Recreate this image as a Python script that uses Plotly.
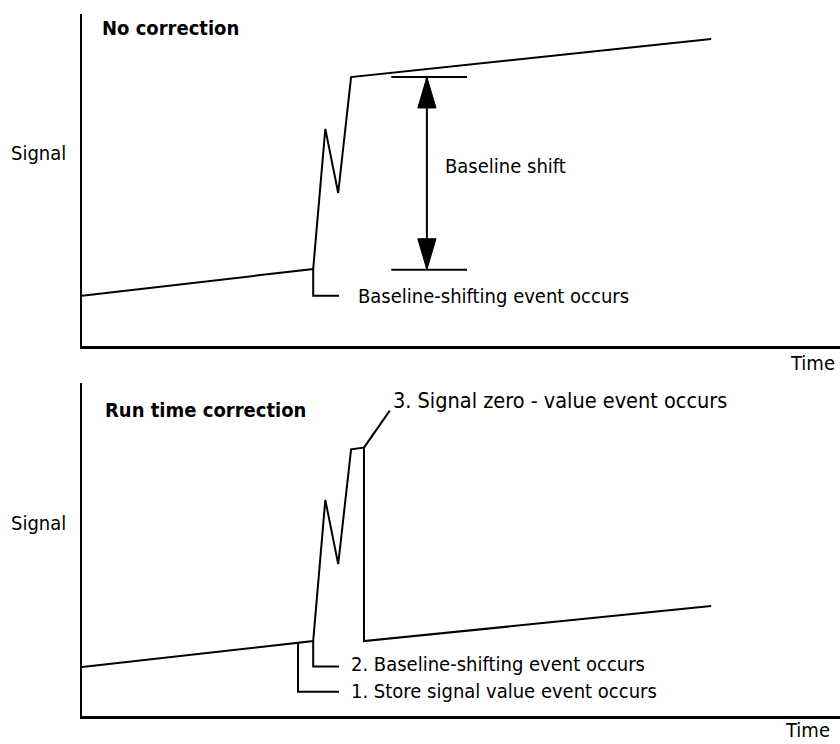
import plotly.graph_objects as go
import numpy as np

# ---------------- data ----------------
time_top = [0, 30.5, 32.1, 33.8, 35.5, 83.0]
signal_top = [15.1, 23.2, 65.4, 46.1, 81.0, 92.5]

time_bottom = [0, 30.5, 32.1, 33.8, 35.5, 37.2, 37.2, 83.0]
signal_bottom = [14.7, 22.5, 64.9, 45.6, 80.1, 80.6, 22.5, 33.0]

shift_low, shift_high = 23.0, 81.0
shift_time = 45.5

event_shift_time = 30.5
event_store_time = 28.5
event_zero_time = 37.2

titles = ["No correction", "Run time correction"]
y_label = "Signal"
x_label = "Time"

FONT = "Liberation Sans Narrow, DejaVu Sans Condensed, Roboto, sans-serif"
FS = 20

fig = go.Figure()

line = dict(color="black", width=2)

# main signal traces
fig.add_trace(go.Scatter(x=time_top, y=signal_top, mode="lines", line=line,
                         xaxis="x", yaxis="y", showlegend=False, hoverinfo="skip"))
fig.add_trace(go.Scatter(x=time_bottom, y=signal_bottom, mode="lines", line=line,
                         xaxis="x2", yaxis="y2", showlegend=False, hoverinfo="skip"))

# bracket helper
def bracket(t, s_start, depth_s, t_end, xa, ya):
    fig.add_trace(go.Scatter(x=[t, t, t_end], y=[s_start, depth_s, depth_s], mode="lines",
                             line=line, xaxis=xa, yaxis=ya, showlegend=False, hoverinfo="skip"))

bracket_end = 33.9

# top: baseline-shifting event
s_ev_top = float(np.interp(event_shift_time, time_top, signal_top))
bracket(event_shift_time, s_ev_top, 15.1, bracket_end, "x", "y")

# bottom: events 1 & 2
s_store = float(np.interp(event_store_time, time_bottom[:2], signal_bottom[:2]))
bracket(event_store_time, s_store, 7.3, bracket_end, "x2", "y2")
s_shift_b = float(np.interp(event_shift_time, time_bottom[:2], signal_bottom[:2]))
bracket(event_shift_time, s_shift_b, 14.9, bracket_end, "x2", "y2")

# leader for event 3
fig.add_trace(go.Scatter(x=[event_zero_time, 40.6], y=[80.6, 91.7], mode="lines", line=line,
                         xaxis="x2", yaxis="y2", showlegend=False, hoverinfo="skip"))

# baseline shift measurement bars + arrow
bar_l, bar_r = 40.8, 50.8
for s in (shift_low, shift_high):
    fig.add_trace(go.Scatter(x=[bar_l, bar_r], y=[s, s], mode="lines", line=line,
                             xaxis="x", yaxis="y", showlegend=False, hoverinfo="skip"))
fig.add_trace(go.Scatter(x=[shift_time, shift_time], y=[shift_low, shift_high], mode="lines",
                         line=line, xaxis="x", yaxis="y", showlegend=False, hoverinfo="skip"))
head_len, head_hw = 9.3, 1.2
for tip, d in ((shift_high, -1), (shift_low, 1)):
    fig.add_trace(go.Scatter(
        x=[shift_time, shift_time - head_hw, shift_time + head_hw, shift_time],
        y=[tip, tip + d * head_len, tip + d * head_len, tip],
        mode="lines", fill="toself", fillcolor="black", line=dict(color="black", width=1),
        xaxis="x", yaxis="y", showlegend=False, hoverinfo="skip"))

def txt(x, y, text, xa, ya, bold=False, xanchor="left", yanchor="middle", xref=None, yref=None, size=FS):
    fig.add_annotation(x=x, y=y, xref=xref or xa, yref=yref or ya,
                       text=("<b>%s</b>" % text) if bold else text,
                       showarrow=False, xanchor=xanchor, yanchor=yanchor,
                       font=dict(family=FONT, size=size, color="black"))

txt(2.4, 95.8, titles[0], "x", "y", bold=True)
txt(2.8, 91.9, titles[1], "x2", "y2", bold=True)
txt(9 / 840, 58.0, y_label, "x", "y", xref="paper")
txt(9 / 840, 58.0, y_label, "x2", "y2", xref="paper")
txt(0.996, 0.512, x_label, "x", "y", xref="paper", yref="paper", xanchor="right")
txt(0.991, 0.0, x_label, "x2", "y2", xref="paper", yref="paper", xanchor="right", yanchor="bottom")
txt(47.6, 54.2, "Baseline shift", "x", "y")
txt(36.2, 15.1, "Baseline-shifting event occurs", "x", "y")
txt(35.2, 15.6, "2. Baseline-shifting event occurs", "x2", "y2")
txt(35.2, 7.5, "1. Store signal value event occurs", "x2", "y2")
txt(40.8, 94.7, "3. Signal zero - value event occurs", "x2", "y2", size=21.5)

ax_common = dict(range=[0, 100], showgrid=False, zeroline=False, showticklabels=False,
                 ticks="", showline=True, linecolor="black", fixedrange=True)
x_dom = [82 / 840, 1.0]
fig.update_layout(
    width=840, height=744, margin=dict(l=0, r=0, t=0, b=0),
    paper_bgcolor="white", plot_bgcolor="white",
    xaxis=dict(domain=x_dom, anchor="y", linewidth=3, **ax_common),
    yaxis=dict(domain=[1 - 346 / 744, 1 - 14 / 744], anchor="x", linewidth=2, **ax_common),
    xaxis2=dict(domain=x_dom, anchor="y2", linewidth=3, **ax_common),
    yaxis2=dict(domain=[1 - 716 / 744, 1 - 383 / 744], anchor="x2", linewidth=2, **ax_common),
)

# remove the browser's default body margin so the 840x744 figure fills the window exactly
fig.write_html("out.html", config={"displayModeBar": False},
               post_script="document.body.style.margin='0';document.body.style.overflow='hidden';")
